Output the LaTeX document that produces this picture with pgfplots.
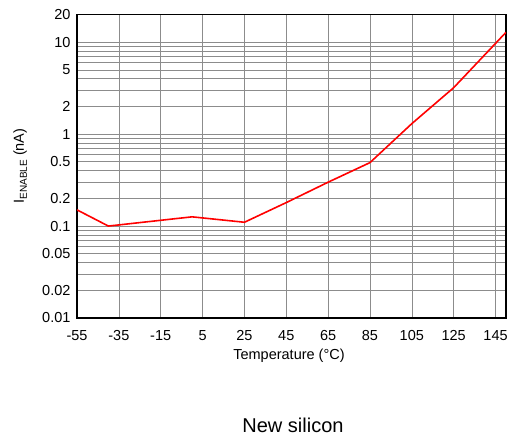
\documentclass[border=0pt]{standalone}
\usepackage{fontspec}
\setmainfont{Liberation Sans}
\usepackage{pgfplots}
\pgfplotsset{compat=1.18}
\begin{document}
\begin{tikzpicture}
\path (0,0) rectangle (514pt,437pt);
\begin{axis}[at={(77pt,119pt)}, anchor=south west, scale only axis,
  width=429pt, height=303.5pt,
  ymode=log, xmin=-55, xmax=150, ymin=0.01, ymax=20,
  xtick={-55,-35,-15,5,25,45,65,85,105,125,145},
  xticklabels={-55,-35,-15,5,25,45,65,85,105,125,145},
  ytick={0.01,0.02,0.05,0.1,0.2,0.5,1,2,5,10,20},
  yticklabels={0.01,0.02,0.05,0.1,0.2,0.5,1,2,5,10,20},
  minor ytick={0.03,0.04,0.06,0.07,0.08,0.09,0.3,0.4,0.6,0.7,0.8,0.9,3,4,6,7,8,9},
  grid=both,
  major grid style={black!45, line width=0.6pt},
  minor grid style={black!45, line width=0.6pt},
  major tick length=0pt, minor tick length=0pt,
  axis line style={black, line width=1.6pt},
  tick label style={font=\fontsize{14.5}{16}\selectfont},
  xticklabel style={yshift=-9pt},
  yticklabel style={xshift=-3pt},
  clip=true,
]
\addplot[red, line width=1.6pt] coordinates {
(-55,0.15) (-40,0.1) (0,0.126) (25,0.11) (45,0.18) (65,0.3) (85,0.49) (105,1.3) (125,3.2) (150,12.8)
};
\end{axis}
\node[rotate=90, font=\fontsize{14.5}{16}\selectfont] at (20pt,271pt) {I\raisebox{-3pt}{\fontsize{10}{10}\selectfont ENABLE} (nA)};
\node[font=\fontsize{14.5}{16}\selectfont] at (289pt,81pt) {Temperature (\textdegree C)};
\node[font=\fontsize{20}{22}\selectfont] at (293pt,12pt) {New silicon};
\pgfresetboundingbox
\path (0,0) rectangle (514pt,437pt);
\end{tikzpicture}
\end{document}
